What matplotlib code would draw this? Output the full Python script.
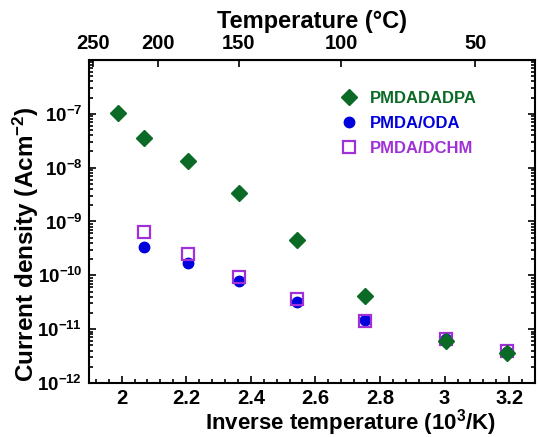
import numpy as np
import matplotlib
matplotlib.use('Agg')
import matplotlib.pyplot as plt
from matplotlib.ticker import LogLocator, NullLocator, FixedLocator, NullFormatter, MultipleLocator

plt.rcParams['font.family'] = 'Liberation Sans'
plt.rcParams['font.weight'] = 'bold'
plt.rcParams['mathtext.fontset'] = 'custom'
plt.rcParams['mathtext.rm'] = 'Liberation Sans:bold'
plt.rcParams['mathtext.bf'] = 'Liberation Sans:bold'
plt.rcParams['mathtext.it'] = 'Liberation Sans:bold'

# inverse temperature (10^3/K)
x_dadpa = [1.988, 2.070, 2.207, 2.363, 2.544, 2.754, 3.003, 3.193]
j_dadpa = [1.02e-7, 3.6e-8, 1.32e-8, 3.35e-9, 4.5e-10, 4.1e-11, 6.0e-12, 3.6e-12]

x_oda = [2.070, 2.207, 2.363, 2.544, 2.754, 3.003, 3.193]
j_oda = [3.4e-10, 1.67e-10, 7.9e-11, 3.2e-11, 1.5e-11, 6.5e-12, 3.8e-12]

x_dchm = [2.070, 2.207, 2.363, 2.544, 2.754, 3.003, 3.193]
j_dchm = [6.4e-10, 2.5e-10, 9.2e-11, 3.6e-11, 1.4e-11, 6.6e-12, 3.9e-12]

temp_ticks = [250, 200, 150, 100, 50]
decades = [1e-12, 1e-11, 1e-10, 1e-9, 1e-8, 1e-7]

green = '#0b6a25'
blue = '#0000dd'
purple = '#a030d8'

fig = plt.figure(figsize=(5.39, 4.37), dpi=100)
ax = fig.add_axes([0.1657, 0.1236, 0.8270, 0.7391])

h2, = ax.plot(x_oda, j_oda, 'o', color=blue, ms=7.5, mec=blue, ls='none', zorder=3)
h3, = ax.plot(x_dchm, j_dchm, 's', mfc='none', mec=purple, mew=1.6, ms=8.5, ls='none', zorder=4)
h1, = ax.plot(x_dadpa, j_dadpa, 'D', color=green, ms=7.8, ls='none', zorder=5)

ax.set_yscale('log')
ax.set_xlim(1.9, 3.28)
ax.set_ylim(1e-12, 1e-6)

ax.xaxis.set_minor_locator(MultipleLocator(0.04))
ax.set_xticks([2.0, 2.2, 2.4, 2.6, 2.8, 3.0, 3.2])
ax.set_xticklabels(['2', '2.2', '2.4', '2.6', '2.8', '3', '3.2'])

ax.yaxis.set_major_locator(FixedLocator(decades))
ax.set_yticklabels([r'$\mathbf{10^{%d}}$' % round(np.log10(d)) for d in decades])
ax.yaxis.set_minor_locator(LogLocator(base=10, subs=np.arange(2, 10), numticks=20))
ax.yaxis.set_minor_formatter(NullFormatter())

ax.tick_params(which='both', direction='in', top=False, right=True, width=1.2)
ax.tick_params(axis='x', labelsize=14.5, pad=4)
ax.tick_params(axis='y', labelsize=13.5, pad=5)
ax.tick_params(which='major', length=5)
ax.tick_params(which='minor', length=3)
for s in ax.spines.values():
    s.set_linewidth(1.5)

ax.set_xlabel('Inverse temperature (10$^3$/K)', fontsize=16, fontweight='bold', va='center')
ax.xaxis.set_label_coords(0.587, -0.121)
ax.set_ylabel('Current density (Acm$^{-2}$)', fontsize=17.5, fontweight='bold', va='center')
ax.yaxis.set_label_coords(-0.143, 0.43)

sec = ax.secondary_xaxis('top', functions=(lambda x: 1000.0 / x - 273.15,
                                           lambda t: 1000.0 / (t + 273.15)))
sec.set_xticks(temp_ticks)
sec.xaxis.set_minor_locator(NullLocator())
sec.tick_params(direction='in', length=5, width=1.2, labelsize=14.5, pad=5)
sec.set_xlabel('Temperature (°C)', fontsize=17, fontweight='bold', va='center')
sec.xaxis.set_label_coords(0.5, 1.118, transform=ax.transAxes)

ax.legend([h1, h2, h3], ['PMDADADPA', 'PMDA/ODA', 'PMDA/DCHM'],
          loc='upper left', bbox_to_anchor=(0.533, 0.945), frameon=False,
          fontsize=12, labelcolor=[green, blue, purple], handletextpad=0.8,
          labelspacing=0.6, handlelength=1.0, borderpad=0.3)

fig.savefig('out.png', dpi=100)
